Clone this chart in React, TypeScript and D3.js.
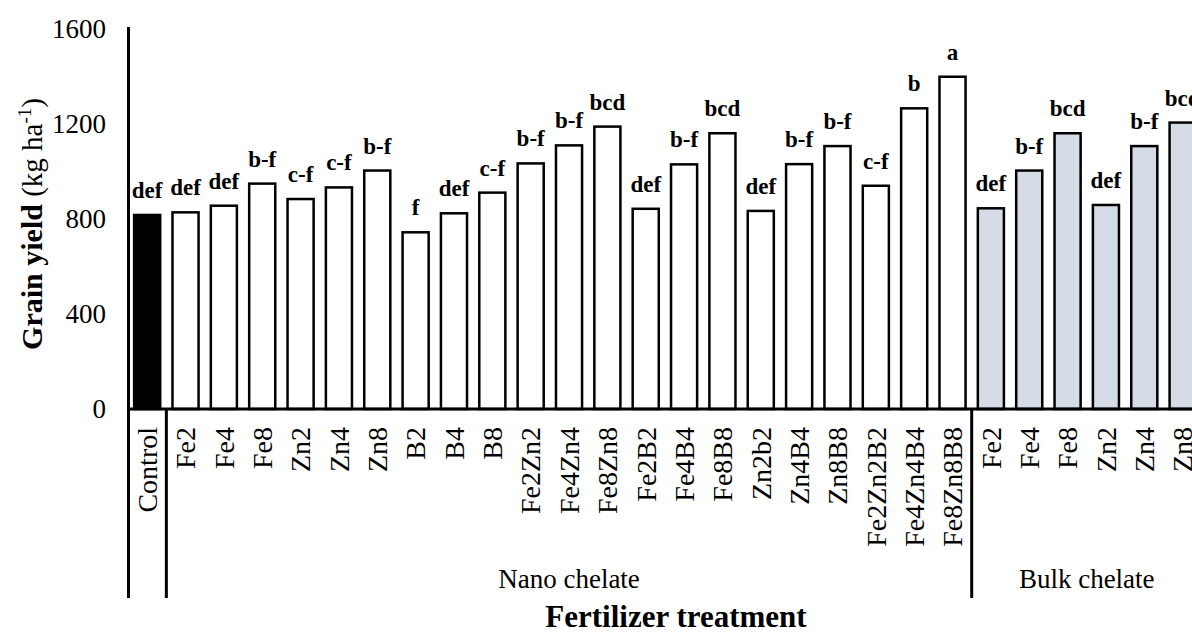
import React from "react";
import * as d3 from "d3";

// treatments
const controlLabels = ["Control"];
const nanoLabels = [
  "Fe2", "Fe4", "Fe8", "Zn2", "Zn4", "Zn8", "B2", "B4", "B8",
  "Fe2Zn2", "Fe4Zn4", "Fe8Zn8", "Fe2B2", "Fe4B4", "Fe8B8",
  "Zn2b2", "Zn4B4", "Zn8B8", "Fe2Zn2B2", "Fe4Zn4B4", "Fe8Zn8B8",
];
const bulkLabels = ["Fe2", "Fe4", "Fe8", "Zn2", "Zn4", "Zn8"];

// grain yield (kg/ha)
const controlYield = [817];
const nanoYield = [
  828, 856, 949, 884, 933, 1004, 744, 824, 911,
  1034, 1110, 1189, 843, 1030, 1161,
  834, 1031, 1107, 940, 1266, 1399,
];
const bulkYield = [845, 1004, 1161, 859, 1107, 1206];

// mean separation letters
const controlLetters = ["def"];
const nanoLetters = [
  "def", "def", "b-f", "c-f", "c-f", "b-f", "f", "def", "c-f",
  "b-f", "b-f", "bcd", "def", "b-f", "bcd",
  "def", "b-f", "b-f", "c-f", "b", "a",
];
const bulkLetters = ["def", "b-f", "bcd", "def", "b-f", "bcd"];

const groupNames = ["", "Nano chelate", "Bulk chelate"];
const yTicks = [0, 400, 800, 1200, 1600];

const FONT = "'Liberation Serif', 'Times New Roman', serif";

const App = () => {
  const width = 1192;
  const height = 635;

  const groups = [
    { name: groupNames[0], labels: controlLabels, values: controlYield, letters: controlLetters, fill: "#000000" },
    { name: groupNames[1], labels: nanoLabels, values: nanoYield, letters: nanoLetters, fill: "#ffffff" },
    { name: groupNames[2], labels: bulkLabels, values: bulkYield, letters: bulkLetters, fill: "#d6dce5" },
  ];

  const rows: { key: string; label: string; value: number; letter: string; fill: string; group: number }[] = [];
  groups.forEach((g, gi) => {
    g.labels.forEach((l, i) => {
      rows.push({ key: gi + "-" + i, label: l, value: g.values[i], letter: g.letters[i], fill: g.fill, group: gi });
    });
  });

  const x0 = 128;
  const step = 38.35;
  const x = d3
    .scaleBand()
    .domain(rows.map((d) => d.key))
    .range([x0, x0 + rows.length * step])
    .paddingInner(0.32)
    .paddingOuter(0.16);

  const y = d3.scaleLinear().domain([0, 1600]).range([409, 29]);

  const axisBottom = 598;

  // group boundaries
  let acc = 0;
  const bounds = groups.map((g) => {
    const start = x0 + acc * x.step();
    acc += g.labels.length;
    return { name: g.name, start, end: x0 + acc * x.step() };
  });

  return (
    <svg
      width={width}
      height={height}
      style={{ position: "absolute", left: 0, top: 0, background: "#fff" }}
      fontFamily={FONT}
    >
      {rows.map((d) => (
        <rect
          key={"bar" + d.key}
          x={x(d.key)}
          y={y(d.value)}
          width={x.bandwidth()}
          height={y(0) - y(d.value)}
          fill={d.fill}
          stroke="#000"
          strokeWidth={2.5}
        />
      ))}

      {rows.map((d) => (
        <text
          key={"let" + d.key}
          x={(x(d.key) as number) + x.bandwidth() / 2}
          y={y(d.value) - 17}
          textAnchor="middle"
          fontWeight="bold"
          fontSize={23}
        >
          {d.letter}
        </text>
      ))}

      {rows.map((d) => (
        <text
          key={"cat" + d.key}
          transform={`translate(${(x(d.key) as number) + x.bandwidth() / 2},427) rotate(-90)`}
          textAnchor="end"
          dy="0.35em"
          fontSize={28}
        >
          {d.label}
        </text>
      ))}

      {yTicks.map((t) => (
        <text key={"yt" + t} x={106} y={y(t)} textAnchor="end" dy="0.35em" fontSize={27}>
          {t}
        </text>
      ))}

      {/* axes */}
      <line x1={x0 + 0.5} x2={x0 + 0.5} y1={27} y2={axisBottom} stroke="#000" strokeWidth={3} />
      <line x1={x0} x2={width} y1={y(0)} y2={y(0)} stroke="#000" strokeWidth={3} />
      {bounds.slice(1).map((b, i) => (
        <line key={"sep" + i} x1={b.start} x2={b.start} y1={y(0)} y2={axisBottom} stroke="#000" strokeWidth={3} />
      ))}

      {bounds.map((b, i) =>
        b.name ? (
          <text key={"grp" + i} x={(b.start + b.end) / 2} y={588} textAnchor="middle" fontSize={27}>
            {b.name}
          </text>
        ) : null
      )}

      <text x={676} y={627} textAnchor="middle" fontWeight="bold" fontSize={31}>
        Fertilizer treatment
      </text>

      <text transform="translate(42,224) rotate(-90)" textAnchor="middle" fontSize={29}>
        <tspan fontWeight="bold" fontSize={30}>Grain yield</tspan>
        <tspan> (kg ha</tspan>
        <tspan fontSize={19} dy={-11}>-1</tspan>
        <tspan dy={11}>)</tspan>
      </text>
    </svg>
  );
};

export default App;
